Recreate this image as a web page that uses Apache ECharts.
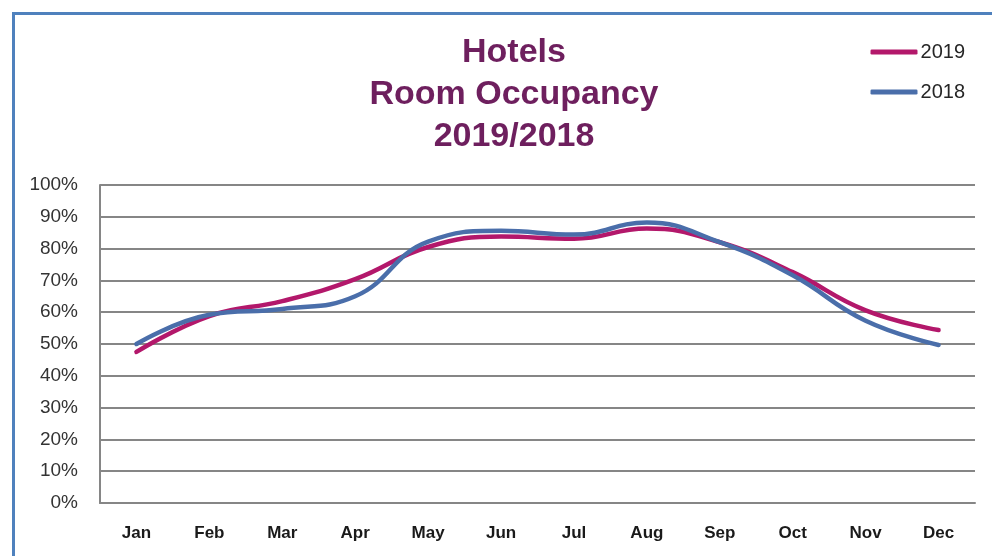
<!DOCTYPE html>
<html>
<head>
<meta charset="utf-8">
<script src="https://cdn.jsdelivr.net/npm/echarts@6/dist/echarts.min.js"></script>
<style>
  html, body { margin: 0; padding: 0; background: #fff; }
  #chart { width: 992px; height: 556px; }
</style>
</head>
<body>
<div id="chart"></div>
<script>
// months along the x axis
const months = ['Jan', 'Feb', 'Mar', 'Apr', 'May', 'Jun', 'Jul', 'Aug', 'Sep', 'Oct', 'Nov', 'Dec'];
// occupancy in percent
const occ2019 = [47.5, 58.8, 63.5, 70.4, 80.5, 83.8, 83.1, 86.3, 82.0, 72.6, 60.6, 54.4];
const occ2018 = [50.0, 59.2, 61.0, 65.0, 82.2, 85.6, 84.4, 88.2, 82.0, 71.6, 57.3, 49.7];

const chart = echarts.init(document.getElementById('chart'), null, { renderer: 'canvas' });

const lineSeries = (name, data, color) => ({
  name,
  type: 'line',
  data,
  smooth: 0.45,
  symbol: 'none',
  lineStyle: { color, width: 4.5, cap: 'round', join: 'round' },
  itemStyle: { color },
});

chart.setOption({
  animation: false,
  graphic: [{
    type: 'rect',
    shape: { x: 13.5, y: 13.5, width: 1000, height: 600 },
    style: { fill: 'none', stroke: '#4F81BD', lineWidth: 3 },
    silent: true,
  }],
  title: {
    text: 'Hotels\nRoom Occupancy\n2019/2018',
    left: 509,
    top: 27,
    textAlign: 'center',
    textStyle: {
      color: '#6E1F5E',
      fontFamily: 'Liberation Sans, Arial, sans-serif',
      fontWeight: 'bold',
      fontSize: 34,
      lineHeight: 42,
    },
  },
  legend: {
    orient: 'vertical',
    right: 22,
    top: 37,
    icon: 'roundRect',
    itemWidth: 47,
    itemHeight: 5,
    itemGap: 20,
    data: ['2019', '2018'],
    textStyle: {
      color: '#262626',
      fontFamily: 'Liberation Sans, Arial, sans-serif',
      fontSize: 20,
      padding: [0, 0, 0, -2],
    },
  },
  grid: { left: 100, right: 17, top: 185, bottom: 53, containLabel: false },
  xAxis: {
    type: 'category',
    data: months,
    boundaryGap: true,
    axisLine: { lineStyle: { color: '#868686', width: 2 } },
    axisTick: { show: false },
    axisLabel: {
      color: '#1a1a1a',
      fontFamily: 'Liberation Sans, Arial, sans-serif',
      fontWeight: 'bold',
      fontSize: 17,
      margin: 22,
    },
  },
  yAxis: {
    type: 'value',
    min: 0,
    max: 100,
    interval: 10,
    axisLine: { show: true, lineStyle: { color: '#868686', width: 2 } },
    axisTick: { show: false },
    splitLine: { lineStyle: { color: '#868686', width: 2 } },
    axisLabel: {
      formatter: '{value}%',
      color: '#333',
      fontFamily: 'Liberation Sans, Arial, sans-serif',
      fontSize: 19,
      margin: 22,
    },
  },
  series: [
    lineSeries('2019', occ2019, '#B3186B'),
    lineSeries('2018', occ2018, '#4A6EAA'),
  ],
});
</script>
</body>
</html>
